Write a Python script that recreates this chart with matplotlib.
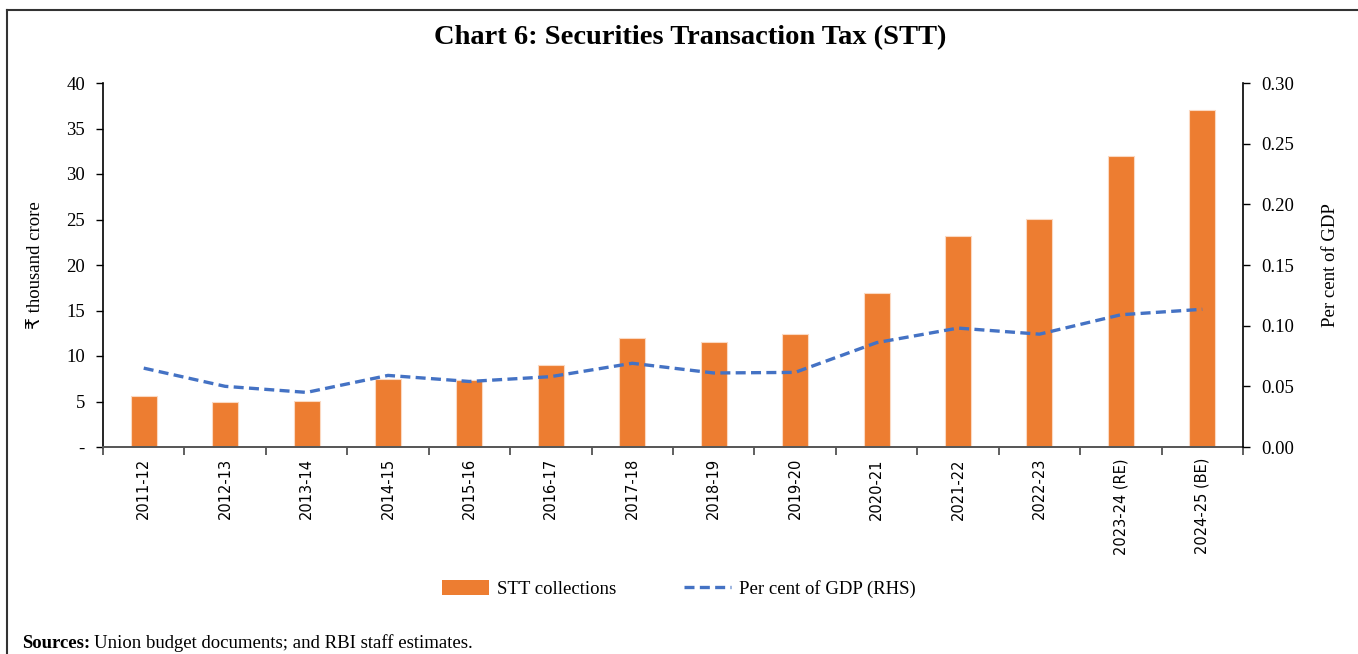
import matplotlib
matplotlib.use("Agg")
import matplotlib.pyplot as plt
import numpy as np
from matplotlib.lines import Line2D
from matplotlib.patches import Patch

years = ["2011-12", "2012-13", "2013-14", "2014-15", "2015-16", "2016-17", "2017-18",
         "2018-19", "2019-20", "2020-21", "2021-22", "2022-23", "2023-24 (RE)", "2024-25 (BE)"]
stt_collections = [5.6, 4.95, 5.05, 7.45, 7.35, 9.0, 12.0, 11.5, 12.4, 16.9, 23.2, 25.1, 32.0, 37.0]
pct_gdp = [0.065, 0.050, 0.045, 0.059, 0.054, 0.058, 0.069, 0.061, 0.0615, 0.086, 0.098, 0.093, 0.109, 0.1135]
left_ticks = [0, 5, 10, 15, 20, 25, 30, 35, 40]
left_ticklabels = ["-", "5", "10", "15", "20", "25", "30", "35", "40"]
right_ticks = [0.0, 0.05, 0.10, 0.15, 0.20, 0.25, 0.30]

ORANGE = "#ED7D31"
BLUE = "#4472C4"
SERIF = ["Liberation Serif", "DejaVu Serif"]

plt.rcParams["font.family"] = ["Liberation Serif", "DejaVu Sans"]

fig = plt.figure(figsize=(13.58, 6.54), dpi=100)
ax = fig.add_axes([103/1358, 1-447/654, (1243-103)/1358, (447-83)/654])
ax2 = ax.twinx()

x = np.arange(len(years))
ax.bar(x, stt_collections, width=0.32, color=ORANGE, edgecolor="#FBD9C2", linewidth=0.8, zorder=2)
ax2.plot(x, pct_gdp, color=BLUE, linestyle=(0, (3, 1.6)), linewidth=2.4, zorder=3)

ax.set_xlim(-0.5, len(years) - 0.5)
ax.set_ylim(0, 40)
ax2.set_ylim(0, 0.30)

ax.set_yticks(left_ticks)
ax.set_yticklabels(left_ticklabels, fontsize=13.5, family=SERIF)
ax2.set_yticks(right_ticks)
ax2.set_yticklabels([f"{v:.2f}" for v in right_ticks], fontsize=13.5, family=SERIF)

ax.set_xticks(x)
ax.set_xticklabels(years, rotation=90, fontsize=10.5, family=["DejaVu Sans"])
ax.tick_params(axis="x", which="major", length=0, pad=8)
ax.set_xticks(np.arange(-0.5, len(years), 1.0), minor=True)
ax.tick_params(axis="x", which="minor", length=6, width=1.2, color="#444444", direction="out")
ax.tick_params(axis="y", length=5, width=1.0, direction="out", pad=8)
ax2.tick_params(axis="y", length=5, width=1.0, direction="out", pad=8)

for a in (ax, ax2):
    a.spines["top"].set_visible(False)
ax.spines["right"].set_visible(False)
ax.spines["bottom"].set_color("#555555")
ax.spines["bottom"].set_linewidth(1.4)
ax.spines["left"].set_linewidth(1.2)
ax2.spines["right"].set_linewidth(1.2)
ax2.spines["left"].set_visible(False)
ax2.spines["bottom"].set_visible(False)

ax.set_ylabel("₹ thousand crore", fontsize=13.5, labelpad=16)
ax2.set_ylabel("Per cent of GDP", fontsize=13.5, labelpad=20)

fig.text(690/1358, 1-38/654, "Chart 6: Securities Transaction Tax (STT)", ha="center", va="center",
         fontsize=20.5, fontweight="bold", family=SERIF)

handles = [Patch(facecolor=ORANGE, edgecolor="none"),
           Line2D([0], [0], color=BLUE, linestyle=(0, (3, 1.6)), linewidth=2.4)]
fig.legend(handles, ["STT collections", "Per cent of GDP (RHS)"], loc="center",
           bbox_to_anchor=(679/1358, 1-589/654), ncol=2, frameon=False, fontsize=13.5,
           handlelength=2.5, handleheight=0.8, columnspacing=3.6, handletextpad=0.45)

fig.text(22/1358, 1-643/654, "Sources:", fontsize=13.5, fontweight="bold", va="center", family=SERIF)
fig.text(94/1358, 1-643/654, "Union budget documents; and RBI staff estimates.", fontsize=13.5,
         va="center", family=SERIF)

# frame lines (top and left) like the source panel
fig.add_artist(Line2D([7/1358, 1.0], [1-10/654, 1-10/654], color="#333333", linewidth=1.5,
                      transform=fig.transFigure))
fig.add_artist(Line2D([7/1358, 7/1358], [1-10/654, 0.0], color="#333333", linewidth=1.5,
                      transform=fig.transFigure))

fig.savefig("out.png", dpi=100)
